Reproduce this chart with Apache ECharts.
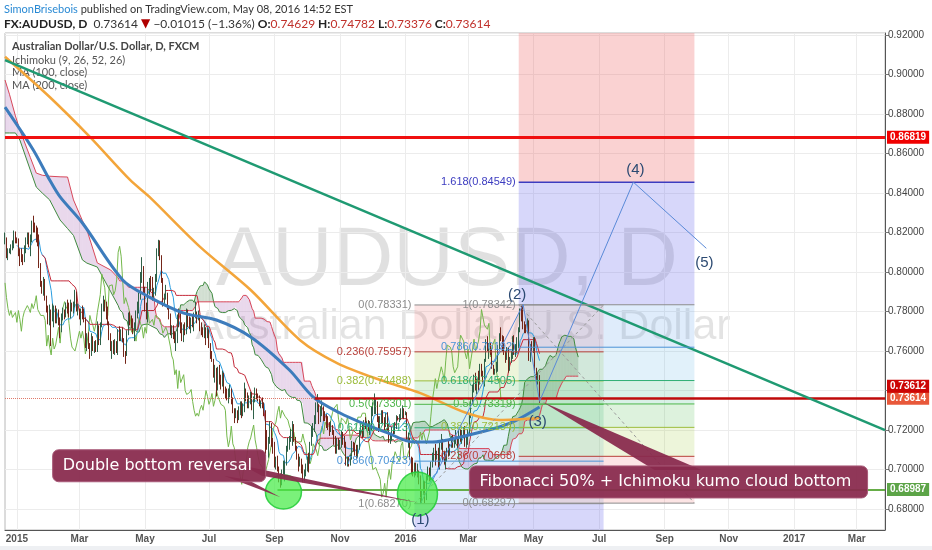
<!DOCTYPE html>
<html><head><meta charset="utf-8">
<script src="https://cdn.jsdelivr.net/npm/echarts@6/dist/echarts.min.js"></script>
<style>html,body{margin:0;padding:0;background:#fff}#c{width:932px;height:550px}</style>
</head><body><div id="c"></div><script>
// ---------------- DATA (AUDUSD daily, FXCM; bar index 0 = 2014-12-22) ----------------
const firstOpen = 0.8160;
const closes = [
0.8170,0.8085,0.8100,0.8110,0.8125, 0.8130,0.8195,0.8165,0.8160,0.8100,
0.8090,0.8080,0.8060,0.8120,0.8165, 0.8180,0.8145,0.8170,0.8245,0.8240,
0.8220,0.8185,0.8175,0.8040,0.7935, 0.7925,0.7945,0.7870,0.7815,0.7780,
0.7805,0.7770,0.7775,0.7795,0.7745, 0.7805,0.7760,0.7700,0.7770,0.7800,
0.7795,0.7830,0.7815,0.7795,0.7840, 0.7815,0.7840,0.7880,0.7810,0.7810,
0.7780,0.7790,0.7780,0.7755,0.7625, 0.7680,0.7620,0.7580,0.7665,0.7610,
0.7630,0.7625,0.7720,0.7640,0.7735, 0.7820,0.7850,0.7825,0.7810,0.7740,
0.7665,0.7620,0.7625,0.7600,0.7630, 0.7620,0.7700,0.7665,0.7700,0.7660,
0.7585,0.7580,0.7690,0.7780,0.7750, 0.7730,0.7700,0.7735,0.7795,0.7800,
0.7885,0.7990,0.7995,0.7920,0.7820, 0.7780,0.7930,0.7940,0.7935,0.7885,
0.7905,0.7960,0.8100,0.8130,0.8080, 0.7960,0.7840,0.7870,0.7880,0.7820,
0.7780,0.7695,0.7710,0.7685,0.7650, 0.7650,0.7770,0.7740,0.7720,0.7665,
0.7720,0.7690,0.7800,0.7740,0.7730, 0.7760,0.7730,0.7780,0.7780,0.7770,
0.7770,0.7730,0.7690,0.7680,0.7720, 0.7700,0.7705,0.7625,0.7575,0.7555,
0.7480,0.7505,0.7410,0.7500,0.7440, 0.7430,0.7480,0.7400,0.7380,0.7375,
0.7390,0.7405,0.7345,0.7300,0.7270, 0.7285,0.7270,0.7305,0.7325,0.7300,
0.7305,0.7400,0.7370,0.7330,0.7350, 0.7385,0.7320,0.7350,0.7400,0.7370,
0.7360,0.7330,0.7335,0.7320,0.7300, 0.7170,0.7115,0.7150,0.7220,0.7130,
0.7110,0.7040,0.7045,0.7000,0.6965, 0.6925,0.6990,0.6990,0.7030,0.7110,
0.7140,0.7160,0.7195,0.7225,0.7150, 0.7110,0.7065,0.7030,0.7040,0.7010,
0.6970,0.6990,0.7020,0.7050,0.7045, 0.7130,0.7205,0.7210,0.7240,0.7290,
0.7320,0.7260,0.7300,0.7310,0.7270, 0.7260,0.7250,0.7220,0.7200,0.7210,
0.7190,0.7130,0.7120,0.7140,0.7130, 0.7140,0.7180,0.7145,0.7120,0.7050,
0.7050,0.7030,0.7060,0.7130,0.7120, 0.7100,0.7070,0.7110,0.7190,0.7220,
0.7180,0.7240,0.7220,0.7230,0.7220, 0.7230,0.7290,0.7310,0.7320,0.7330,
0.7255,0.7210,0.7260,0.7270,0.7245, 0.7230,0.7265,0.7220,0.7150,0.7160,
0.7200,0.7195,0.7215,0.7265,0.7260, 0.7265,0.7285,0.7290,0.7285,0.7290,
0.7150,0.7150,0.7060,0.7000,0.6990, 0.7010,0.6990,0.6990,0.6950,0.6860,
0.6880,0.6930,0.6860,0.6950,0.7000, 0.6950,0.7030,0.7055,0.7090,0.7070,
0.7080,0.7040,0.7120,0.7140,0.7050, 0.7040,0.7060,0.7090,0.7080,0.7120,
0.7160,0.7130,0.7150,0.7150,0.7130, 0.7190,0.7150,0.7190,0.7190,0.7130,
0.7140,0.7190,0.7270,0.7350,0.7400, 0.7460,0.7410,0.7450,0.7440,0.7520,
0.7490,0.7450,0.7550,0.7630,0.7620, 0.7620,0.7600,0.7520,0.7490,0.7500,
0.7520,0.7620,0.7680,0.7670,0.7650, 0.7590,0.7560,0.7610,0.7510,0.7560,
0.7570,0.7660,0.7600,0.7610,0.7650, 0.7700,0.7810,0.7770,0.7730,0.7720,
0.7710,0.7740,0.7570,0.7620,0.7610, 0.7660,0.7500,0.7450,0.7463,0.7361
];
const highs = [
0.8200,0.8175,0.8120,0.8120,0.8140, 0.8160,0.8210,0.8205,0.8175,0.8170,
0.8120,0.8120,0.8090,0.8135,0.8175, 0.8200,0.8200,0.8190,0.8260,0.8285,
0.8250,0.8235,0.8225,0.8190,0.8045, 0.7955,0.7975,0.7965,0.7880,0.7830,
0.7835,0.7810,0.7840,0.7830,0.7830, 0.7815,0.7810,0.7770,0.7790,0.7820,
0.7810,0.7845,0.7860,0.7845,0.7860, 0.7845,0.7850,0.7910,0.7900,0.7840,
0.7815,0.7815,0.7830,0.7815,0.7770, 0.7690,0.7695,0.7640,0.7690,0.7675,
0.7650,0.7655,0.7750,0.7730,0.7745, 0.7840,0.7880,0.7860,0.7850,0.7825,
0.7750,0.7690,0.7650,0.7655,0.7660, 0.7650,0.7710,0.7725,0.7710,0.7720,
0.7665,0.7600,0.7705,0.7795,0.7800, 0.7780,0.7765,0.7745,0.7805,0.7850,
0.7895,0.8000,0.8075,0.8030,0.7925, 0.7845,0.7950,0.7970,0.7980,0.7975,
0.7920,0.7990,0.8120,0.8163,0.8160, 0.8085,0.7970,0.7890,0.7935,0.7895,
0.7830,0.7790,0.7730,0.7730,0.7700, 0.7695,0.7785,0.7815,0.7790,0.7745,
0.7735,0.7745,0.7815,0.7810,0.7775, 0.7770,0.7780,0.7795,0.7850,0.7800,
0.7805,0.7785,0.7745,0.7720,0.7735, 0.7710,0.7720,0.7710,0.7640,0.7600,
0.7560,0.7530,0.7515,0.7520,0.7530, 0.7480,0.7500,0.7490,0.7420,0.7410,
0.7410,0.7430,0.7410,0.7365,0.7310, 0.7310,0.7300,0.7320,0.7345,0.7345,
0.7335,0.7440,0.7410,0.7390,0.7375, 0.7395,0.7390,0.7370,0.7415,0.7410,
0.7385,0.7375,0.7350,0.7365,0.7340, 0.7300,0.7200,0.7165,0.7245,0.7235,
0.7160,0.7140,0.7065,0.7070,0.7015, 0.6980,0.7000,0.7045,0.7045,0.7120,
0.7160,0.7170,0.7205,0.7245,0.7230, 0.7165,0.7120,0.7080,0.7065,0.7055,
0.7025,0.7000,0.7030,0.7065,0.7085, 0.7140,0.7220,0.7235,0.7275,0.7340,
0.7382,0.7330,0.7320,0.7350,0.7320, 0.7295,0.7280,0.7270,0.7240,0.7245,
0.7225,0.7200,0.7170,0.7160,0.7160, 0.7150,0.7195,0.7190,0.7170,0.7140,
0.7065,0.7065,0.7075,0.7145,0.7140, 0.7135,0.7125,0.7125,0.7200,0.7245,
0.7230,0.7250,0.7265,0.7245,0.7250, 0.7245,0.7320,0.7340,0.7385,0.7355,
0.7345,0.7270,0.7270,0.7300,0.7300, 0.7265,0.7285,0.7290,0.7230,0.7185,
0.7215,0.7220,0.7240,0.7275,0.7270, 0.7280,0.7310,0.7325,0.7310,0.7295,
0.7285,0.7185,0.7160,0.7065,0.7060, 0.7035,0.7035,0.7030,0.6995,0.6970,
0.6900,0.6945,0.6940,0.6970,0.7015, 0.7010,0.7040,0.7085,0.7110,0.7130,
0.7095,0.7110,0.7135,0.7180,0.7155, 0.7095,0.7080,0.7110,0.7145,0.7130,
0.7170,0.7175,0.7165,0.7200,0.7160, 0.7200,0.7205,0.7200,0.7215,0.7220,
0.7170,0.7205,0.7280,0.7360,0.7430, 0.7480,0.7490,0.7460,0.7500,0.7535,
0.7535,0.7500,0.7560,0.7660,0.7675, 0.7640,0.7640,0.7610,0.7530,0.7510,
0.7545,0.7630,0.7690,0.7720,0.7680, 0.7675,0.7600,0.7620,0.7620,0.7570,
0.7600,0.7675,0.7680,0.7635,0.7670, 0.7720,0.7815,0.7830,0.7835,0.7750,
0.7735,0.7765,0.7755,0.7635,0.7650, 0.7670,0.7670,0.7515,0.7490,0.7478
];
const lows = [
0.8140,0.8070,0.8060,0.8095,0.8090, 0.8110,0.8120,0.8145,0.8145,0.8080,
0.8030,0.8050,0.8035,0.8050,0.8095, 0.8140,0.8125,0.8080,0.8150,0.8200,
0.8200,0.8150,0.8130,0.8020,0.7925, 0.7890,0.7880,0.7855,0.7795,0.7735,
0.7730,0.7625,0.7750,0.7720,0.7740, 0.7740,0.7730,0.7665,0.7695,0.7755,
0.7760,0.7770,0.7790,0.7770,0.7765, 0.7800,0.7790,0.7820,0.7800,0.7780,
0.7760,0.7730,0.7760,0.7745,0.7615, 0.7600,0.7610,0.7560,0.7575,0.7600,
0.7590,0.7595,0.7595,0.7630,0.7630, 0.7720,0.7800,0.7800,0.7760,0.7730,
0.7655,0.7600,0.7560,0.7585,0.7580, 0.7590,0.7580,0.7650,0.7650,0.7645,
0.7570,0.7535,0.7575,0.7680,0.7730, 0.7715,0.7685,0.7650,0.7705,0.7765,
0.7790,0.7860,0.7945,0.7890,0.7800, 0.7760,0.7745,0.7885,0.7900,0.7855,
0.7860,0.7880,0.7950,0.8080,0.8060, 0.7945,0.7825,0.7830,0.7860,0.7810,
0.7760,0.7680,0.7665,0.7660,0.7640, 0.7600,0.7640,0.7720,0.7690,0.7650,
0.7645,0.7680,0.7685,0.7720,0.7710, 0.7690,0.7720,0.7700,0.7765,0.7740,
0.7755,0.7700,0.7680,0.7670,0.7665, 0.7630,0.7665,0.7615,0.7560,0.7545,
0.7465,0.7440,0.7370,0.7400,0.7430, 0.7405,0.7420,0.7385,0.7360,0.7350,
0.7335,0.7365,0.7330,0.7285,0.7235, 0.7260,0.7235,0.7250,0.7275,0.7260,
0.7270,0.7290,0.7345,0.7310,0.7310, 0.7330,0.7300,0.7255,0.7340,0.7355,
0.7345,0.7320,0.7310,0.7310,0.7270, 0.7045,0.7100,0.7060,0.7130,0.7115,
0.7080,0.7010,0.7000,0.6990,0.6935, 0.6908,0.6920,0.6975,0.6940,0.7020,
0.7090,0.7100,0.7140,0.7120,0.7140, 0.7095,0.7050,0.6990,0.7015,0.6980,
0.6935,0.6940,0.6965,0.6990,0.6985, 0.7030,0.7120,0.7165,0.7190,0.7230,
0.7290,0.7230,0.7240,0.7270,0.7245, 0.7245,0.7210,0.7200,0.7170,0.7190,
0.7175,0.7125,0.7080,0.7080,0.7100, 0.7100,0.7110,0.7125,0.7110,0.7020,
0.7015,0.7015,0.7020,0.7050,0.7090, 0.7070,0.7055,0.7060,0.7100,0.7175,
0.7160,0.7165,0.7205,0.7205,0.7195, 0.7175,0.7200,0.7270,0.7280,0.7280,
0.7240,0.7190,0.7195,0.7230,0.7235, 0.7200,0.7215,0.7195,0.7135,0.7130,
0.7145,0.7170,0.7180,0.7205,0.7250, 0.7240,0.7250,0.7260,0.7255,0.7275,
0.7140,0.7110,0.7050,0.6975,0.6965, 0.6960,0.6970,0.6960,0.6925,0.6827,
0.6830,0.6870,0.6830,0.6845,0.6945, 0.6940,0.6945,0.7010,0.7040,0.7020,
0.7050,0.7010,0.7000,0.7100,0.7040, 0.7025,0.7000,0.7040,0.7065,0.7070,
0.7110,0.7110,0.7110,0.7130,0.7110, 0.7130,0.7140,0.7130,0.7160,0.7115,
0.7110,0.7125,0.7180,0.7260,0.7330, 0.7390,0.7400,0.7380,0.7400,0.7430,
0.7470,0.7440,0.7420,0.7545,0.7600, 0.7560,0.7580,0.7510,0.7480,0.7480,
0.7490,0.7495,0.7610,0.7650,0.7600, 0.7580,0.7540,0.7555,0.7490,0.7500,
0.7540,0.7560,0.7580,0.7570,0.7590, 0.7615,0.7695,0.7750,0.7710,0.7690,
0.7690,0.7690,0.7550,0.7545,0.7590, 0.7590,0.7490,0.7440,0.7430,0.7338
];
// Moving averages: [bar index, value]
const ma100Pts = [[0,0.8835],[19,0.8618],[30,0.8466],[37,0.8380],[52,0.8248],[79,0.7960],[97,0.7873],[120,0.7792],[142,0.7757],[165,0.7671],[191,0.7504],[207,0.7367],[225,0.7286],[240,0.7235],[257,0.7185],[274,0.7139],[287,0.7139],[306,0.7165],[332,0.7215],[344,0.7251],[359,0.7316]];
const ma200Pts = [[0,0.9090],[30,0.8886],[57,0.8684],[84,0.8466],[97,0.8380],[131,0.8127],[165,0.7909],[198,0.7656],[223,0.7539],[252,0.7453],[279,0.7387],[310,0.7286],[332,0.7251],[359,0.7261]];
// Ichimoku cloud at the left edge (needs history before the chart)
const cloudEarlyIdx = [0,3,7,10,17,21,25,30,37,42,46,52,55,62,71,76];
const cloudEarlyA   = [0.8704,0.8704,0.8704,0.8668,0.8516,0.8430,0.8400,0.8365,0.8263,0.8220,0.8185,0.8061,0.8045,0.8025,0.7900,0.7830];
const cloudEarlyB   = [0.8972,0.8900,0.8790,0.8719,0.8580,0.8501,0.8490,0.8485,0.8482,0.8481,0.8365,0.8260,0.8213,0.8046,0.8010,0.7970];
// horizontal levels
const levelValues = {resistance:0.86819, support:0.73612, last:0.73614, bottom:0.68987};
// Fibonacci tools
const fibRatios = [0,0.236,0.382,0.5,0.618,0.786,1,1.618,2.618];
const fibTools = [
  {x0:275, x1:402, p0:0.783311, p1:0.6827},
  {x0:345, x1:463, p0:0.6829715, p1:0.7834155}
];
// trend line anchors [bar index, value]
const trendAnchors = [[0,0.9073],[591,0.7199]];
// Elliott wave anchors [bar index, value, label]
const waveAnchors = [[279,0.6827,'(1)'],[348,0.7835,'(2)'],[359,0.7345,'(3)'],[422,0.8455,'(4)'],[471,0.8120,'(5)']];

// ---------------- helpers ----------------
const MONTHS=['Jan','Feb','Mar','Apr','May','Jun','Jul','Aug','Sep','Oct','Nov','Dec'];
const dates=[];
(function(){let d=new Date(Date.UTC(2014,11,22));while(dates.length<592){const w=d.getUTCDay();if(w!==0&&w!==6)dates.push(d.toISOString().slice(0,10));d.setUTCDate(d.getUTCDate()+1);}})();
function isLabel(i){ if(i<=0) return false; const m=+dates[i].slice(5,7); return m%2===1 && dates[i-1].slice(5,7)!==dates[i].slice(5,7); }
function fmtDate(v){ const m=+v.slice(5,7); return m===1 ? v.slice(0,4) : MONTHS[m-1]; }

const n = closes.length;
const opens = closes.map((c,i)=> i===0 ? firstOpen : closes[i-1]);
const hi = highs.map((h,i)=>Math.max(h,opens[i],closes[i]));
const lo = lows.map((l,i)=>Math.min(l,opens[i],closes[i]));
const candleData = closes.map((c,i)=>[opens[i], c, lo[i], hi[i]]);

function midAt(s,p){ if(s-p+1<0||s>=n) return null; let h=-Infinity,l=Infinity; for(let k=s-p+1;k<=s;k++){ if(hi[k]>h)h=hi[k]; if(lo[k]<l)l=lo[k]; } return (h+l)/2; }
const tenkan=[], kijun=[];
for(let i=0;i<n;i++){ const t=midAt(i,9), k=midAt(i,26); if(t!=null) tenkan.push([i,t]); if(k!=null) kijun.push([i,k]); }
const chikou = closes.slice(26).map((c,i)=>[i,c]);
const cloudPts = cloudEarlyIdx.map((x,j)=>[x,cloudEarlyA[j],cloudEarlyB[j]]);
for(let t=77;t<=n-1+26;t++){ const s=t-26; cloudPts.push([t,(midAt(s,9)+midAt(s,26))/2, midAt(s,52)]); }
const cloudSegs=[]; for(let j=0;j<cloudPts.length-1;j++){ const a=cloudPts[j],b=cloudPts[j+1]; cloudSegs.push([a[0],a[1],a[2],b[0],b[1],b[2]]); }

const fibLevelColors=['#8c8c8c','#b8403a','#9cbc3c','#4fb64b','#2fae74','#4b93d6','#8c8c8c','#3c3cc0','#e04848'];
const fibBandColors=[null,'rgba(235,95,95,0.17)','rgba(165,205,70,0.20)','rgba(85,190,85,0.20)','rgba(45,180,120,0.18)','rgba(80,170,225,0.17)','rgba(95,160,235,0.20)','rgba(100,100,235,0.26)','rgba(235,80,80,0.26)'];
const fibBandData=[], fibLineData=[];
fibTools.forEach(t=>{
  const val=r=>t.p0+r*(t.p1-t.p0);
  for(let k=1;k<fibRatios.length;k++) fibBandData.push([t.x0,val(fibRatios[k-1]),t.x1,val(fibRatios[k]),k]);
  for(let k=0;k<fibRatios.length;k++) fibLineData.push([t.x0,val(fibRatios[k]),t.x1,k]);
});

const hLine=(x0,x1,v,color,width,type,lbl)=>[
  {coord:[x0,v], lineStyle:{color,width,type}, label:lbl||{show:false}},
  {coord:[x1,v]}
];
const lblStyle=(txt,bg,off)=>({show:true,position:'end',formatter:txt,backgroundColor:bg,color:'#fff',fontSize:10,fontWeight:'bold',fontFamily:'Liberation Sans, Arial',padding:[2,3,1,3],distance:2,offset:off||[0,0]});
const toolDiag = fibTools.map(t=>[{coord:[t.x0,t.p1],lineStyle:{color:'#9a9a9a',width:1,type:[3,3]},label:{show:false}},{coord:[t.x1,t.p0]}]);

const chart = echarts.init(document.getElementById('c'));
const option = {
  animation:false,
  backgroundColor:'#ffffff',
  grid:{left:5,right:47,top:33,bottom:20,show:true,borderColor:'#b8b8b8',borderWidth:1,outerBoundsMode:'none'},
  xAxis:{type:'category',data:dates,boundaryGap:false,
    axisLine:{lineStyle:{color:'#555',width:1}},axisTick:{show:false},
    axisLabel:{interval:(i)=>isLabel(i),formatter:v=>fmtDate(v),color:'#555',fontSize:10,fontWeight:'bold',fontFamily:'"Liberation Sans Narrow","Liberation Sans",Arial',margin:4},
    splitLine:{show:true,interval:(i)=>isLabel(i),lineStyle:{color:'#ececec'}}},
  yAxis:{type:'value',position:'right',min:0.66937,max:0.92101,splitNumber:12,minInterval:0.02,maxInterval:0.02,
    axisLine:{show:true,lineStyle:{color:'#555'}},axisTick:{show:true,length:4,lineStyle:{color:'#777'}},
    axisLabel:{formatter:v=>v.toFixed(5),color:'#444',fontSize:10,fontFamily:'"Liberation Sans",Arial',margin:3,showMinLabel:false,showMaxLabel:false},
    splitLine:{show:true,lineStyle:{color:'#ececec'}}},
  series:[
    {type:'custom',name:'fibBands',z:1,clip:true,silent:true,encode:{x:0,y:1},data:fibBandData,
      renderItem:(p,api)=>{const a=api.coord([api.value(0),api.value(1)]),b=api.coord([api.value(2),api.value(3)]);
        return {type:'rect',shape:{x:Math.min(a[0],b[0]),y:Math.min(a[1],b[1]),width:Math.abs(b[0]-a[0]),height:Math.abs(b[1]-a[1])},style:{fill:fibBandColors[api.value(4)]}};}},
    {type:'custom',name:'kumo',z:1,clip:true,silent:true,encode:{x:0,y:1},data:cloudSegs,
      renderItem:(p,api)=>{const x0=api.value(0),a0=api.value(1),b0=api.value(2),x1=api.value(3),a1=api.value(4),b1=api.value(5);
        const pts=[api.coord([x0,a0]),api.coord([x1,a1]),api.coord([x1,b1]),api.coord([x0,b0])];
        return {type:'polygon',shape:{points:pts},style:{fill:(b0+b1>a0+a1)?'rgba(165,90,175,0.24)':'rgba(105,150,105,0.30)'}};}},
    {type:'line',name:'Lead 1',z:2,showSymbol:false,silent:true,data:cloudPts.map(q=>[q[0],q[1]]),lineStyle:{color:'#3f8a3f',width:1}},
    {type:'line',name:'Lead 2',z:2,showSymbol:false,silent:true,data:cloudPts.map(q=>[q[0],q[2]]),lineStyle:{color:'#d8485a',width:1}},
    {type:'line',name:'Lagging',z:3,showSymbol:false,silent:true,data:chikou,lineStyle:{color:'#74b84c',width:1}},
    {type:'candlestick',name:'AUDUSD',z:3,data:candleData,barWidth:1,
      itemStyle:{color:'#3e7f5d',color0:'#a43b2a',borderColor:'#2f6148',borderColor0:'#742619',borderWidth:1}},
    {type:'line',name:'Conversion',z:3,showSymbol:false,silent:true,data:tenkan,lineStyle:{color:'#2a9de0',width:1}},
    {type:'line',name:'Base',z:3,showSymbol:false,silent:true,data:kijun,lineStyle:{color:'#c42a3a',width:1}},
    {type:'line',name:'MA100',z:4,showSymbol:false,silent:true,smooth:0.3,data:ma100Pts,lineStyle:{color:'#3d7cbc',width:3}},
    {type:'line',name:'MA200',z:4,showSymbol:false,silent:true,smooth:0.3,data:ma200Pts,lineStyle:{color:'#f3a53a',width:2.5}},
    {type:'line',name:'levels',z:5,data:[],markLine:{symbol:'none',silent:true,animation:false,data:[
      hLine(0,591,levelValues.last,'#e07a6a',1,'dotted',lblStyle('0.73614','#e8583a')),
      hLine(208,591,levelValues.support,'#bf0a0a',2.5,'solid',lblStyle('0.73612','#cc0505',[0,-12])),
      hLine(0,591,levelValues.resistance,'#f01010',3,'solid',lblStyle('0.86819','#f00000')),
      hLine(183,591,levelValues.bottom,'#66ad48',2,'solid',lblStyle('0.68987','#5ca447')),
      [{coord:trendAnchors[0],lineStyle:{color:'#1f9a72',width:2.5,type:'solid'},label:{show:false}},{coord:trendAnchors[1]}]
    ].concat(toolDiag)}},
    {type:'custom',name:'fibLines',z:5,clip:true,silent:true,encode:{x:0,y:1},data:fibLineData,
      renderItem:(p,api)=>{const x0=api.value(0),v=api.value(1),x1=api.value(2),k=api.value(3);
        const a=api.coord([x0,v]),b=api.coord([x1,v]);
        return {type:'group',children:[
          {type:'line',shape:{x1:a[0],y1:a[1],x2:b[0],y2:b[1]},style:{stroke:fibLevelColors[k],lineWidth:k===7?1.5:1}},
          {type:'text',x:a[0]-3,y:a[1],style:{text:fibRatios[k]+'('+v.toFixed(5)+')',fill:fibLevelColors[k],font:'11px "Liberation Sans", Arial',align:'right',verticalAlign:'middle'}}]};}},
    {type:'line',name:'waves',z:7,silent:true,showSymbol:false,lineStyle:{color:'#5a8ad8',width:1},
      data:waveAnchors.map(w=>[w[0],w[1]])}
  ]
};
chart.setOption(option);

// ---------------- annotations ----------------
const P=(i,v)=>chart.convertToPixel({xAxisIndex:0,yAxisIndex:0},[i,v]);
const g=[];
// watermark
g.push({type:'text',z:-1,silent:true,x:447,y:262,style:{text:'AUDUSD, D',font:'84px "Liberation Sans", Arial',fill:'rgba(0,0,0,0.12)',align:'center',verticalAlign:'middle'}});
g.push({type:'text',z:-1,silent:true,x:463,y:327,style:{text:'Australian Dollar/U.S. Dollar',font:'43px "Liberation Sans", Arial',fill:'rgba(0,0,0,0.11)',align:'center',verticalAlign:'middle'}});
// header
g.push({type:'text',x:4,y:9,style:{text:'{a|SimonBrisebois}{b| published on TradingView.com, May 08, 2016 14:52 EST}',verticalAlign:'middle',
  rich:{a:{fill:'#2a8ad4',font:'11px Lato, "Open Sans", sans-serif'},b:{fill:'#333',font:'11px Lato, "Open Sans", sans-serif'}}}});
g.push({type:'text',x:4,y:24,style:{text:'{b|FX:AUDUSD, D}{n|  0.73614 }{r|▼}{n| −0.01015 (−1.36%) }{b|O:}{v|0.74629}{b| H:}{v|0.74782}{b| L:}{v|0.73376}{b| C:}{v|0.73614}',verticalAlign:'middle',
  rich:{b:{fill:'#222',font:'bold 12px Lato, "Open Sans", sans-serif'},n:{fill:'#333',font:'12px Lato, "Open Sans", sans-serif'},r:{fill:'#b00000',font:'12px "DejaVu Sans", sans-serif'},v:{fill:'#c0302a',font:'12px Lato, "Open Sans", sans-serif'}}}});
// legend
g.push({type:'text',x:12,y:46,style:{text:'Australian Dollar/U.S. Dollar, D, FXCM',fill:'#444',font:'bold 11px Lato, "Open Sans", sans-serif',verticalAlign:'middle'}});
['Ichimoku (9, 26, 52, 26)','MA (100, close)','MA (200, close)'].forEach((t,j)=>g.push({type:'text',x:12,y:60+j*12.7,style:{text:t,fill:'#555',font:'11px Lato, "Open Sans", sans-serif',verticalAlign:'middle'}}));
// green circles
const c1=P(186.7,0.6886), c2=P(277.4,0.6876);
g.push({type:'ellipse',z:40,shape:{cx:c1[0],cy:c1[1],rx:18,ry:17},style:{fill:'rgba(70,235,70,0.72)',stroke:'rgba(40,205,60,0.9)',lineWidth:1.5}});
g.push({type:'ellipse',z:40,shape:{cx:c2[0],cy:c2[1],rx:20,ry:22},style:{fill:'rgba(70,235,70,0.72)',stroke:'rgba(40,205,60,0.9)',lineWidth:1.5}});
// wave labels
const waveOffsets=[[0,16],[-6,-10],[-2,20],[2,-12],[-2,15]];
waveAnchors.forEach((w,j)=>{const q=P(w[0],w[1]); g.push({type:'text',z:48,x:q[0]+waveOffsets[j][0],y:q[1]+waveOffsets[j][1],style:{text:w[2],fill:'#2c4a72',font:'15px "Liberation Sans", Arial',align:'center',verticalAlign:'middle'}});});
// callout 1
const calloutFill='rgba(137,42,78,0.94)', calloutStroke='#a85a78';
const b1=P(32,0.7100), w1=213, h1=32;
const t1a=P(184.5,0.6860), t1b=P(277.5,0.6832);
g.push({type:'polygon',z:45,shape:{points:[[b1[0]+w1-42,b1[1]+h1-6],[b1[0]+w1-18,b1[1]+h1-2],t1a]},style:{fill:calloutFill}});
g.push({type:'polygon',z:45,shape:{points:[[b1[0]+w1-22,b1[1]+h1-16],[b1[0]+w1-4,b1[1]+h1-6],t1b]},style:{fill:calloutFill}});
g.push({type:'rect',z:46,shape:{x:b1[0],y:b1[1],width:w1,height:h1,r:6},style:{fill:calloutFill,stroke:calloutStroke,lineWidth:1}});
g.push({type:'text',z:47,x:b1[0]+10,y:b1[1]+h1/2,style:{text:'Double bottom reversal',fill:'#fff',font:'16px "DejaVu Sans", sans-serif',verticalAlign:'middle'}});
// callout 2
const b2=P(312,0.7018), w2=398, h2=32, t2=P(361,0.7342);
g.push({type:'polygon',z:45,shape:{points:[[b2[0]+185,b2[1]+4],[b2[0]+232,b2[1]+4],t2]},style:{fill:calloutFill}});
g.push({type:'rect',z:46,shape:{x:b2[0],y:b2[1],width:w2,height:h2,r:6},style:{fill:calloutFill,stroke:calloutStroke,lineWidth:1}});
g.push({type:'text',z:47,x:b2[0]+10,y:b2[1]+h2/2,style:{text:'Fibonacci 50% + Ichimoku kumo cloud bottom',fill:'#fff',font:'16px "DejaVu Sans", sans-serif',verticalAlign:'middle'}});
// bottom strip
g.push({type:'rect',z:-2,shape:{x:0,y:546,width:932,height:4},style:{fill:'#eef0f3'}});
chart.setOption({graphic:g});
</script></body></html>
